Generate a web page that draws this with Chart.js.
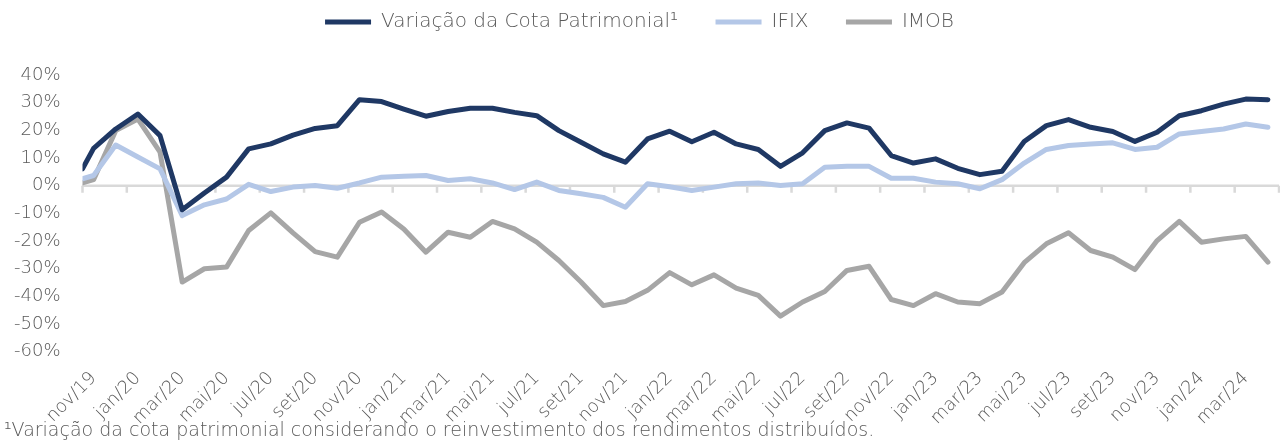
<!DOCTYPE html>
<html>
<head>
<meta charset="utf-8">
<script src="https://cdn.jsdelivr.net/npm/chart.js@4.4.1/dist/chart.umd.min.js"></script>
<style>
  html, body { margin: 0; padding: 0; background: #fff; }
  #wrap { position: relative; width: 1280px; height: 442px; }
  #nota {
    position: absolute; left: 4px; top: 418px;
    font-family: "DejaVu Sans", sans-serif; font-weight: 300; font-size: 19px;
    color: #595959; white-space: nowrap;
  }
</style>
</head>
<body>
<div id="wrap">
  <canvas id="grafico" width="1280" height="442"></canvas>
  <div id="nota">¹Variação da cota patrimonial considerando o reinvestimento dos rendimentos distribuídos.</div>
</div>
<script>
// meses (um ponto por mês)
const meses = [
  "nov/19", "dez/19",
  "jan/20", "fev/20", "mar/20", "abr/20", "mai/20", "jun/20", "jul/20", "ago/20", "set/20", "out/20", "nov/20", "dez/20",
  "jan/21", "fev/21", "mar/21", "abr/21", "mai/21", "jun/21", "jul/21", "ago/21", "set/21", "out/21", "nov/21", "dez/21",
  "jan/22", "fev/22", "mar/22", "abr/22", "mai/22", "jun/22", "jul/22", "ago/22", "set/22", "out/22", "nov/22", "dez/22",
  "jan/23", "fev/23", "mar/23", "abr/23", "mai/23", "jun/23", "jul/23", "ago/23", "set/23", "out/23", "nov/23", "dez/23",
  "jan/24", "fev/24", "mar/24", "abr/24"
];

// variação acumulada em %
const cota = [13.5, 20.5, 25.9, 18.1, -8.7, -2.6, 3.1, 13.3, 15.1, 18.3, 20.7, 21.7, 31.1, 30.4,
  27.7, 25.1, 26.8, 28.0, 28.0, 26.5, 25.3, 19.9, 15.7, 11.5, 8.5, 16.9,
  19.7, 15.9, 19.3, 15.1, 13.1, 7.0, 11.9, 19.9, 22.7, 20.8, 10.9, 8.2,
  9.7, 6.3, 4.0, 5.2, 16.0, 21.7, 23.9, 21.1, 19.6, 16.0, 19.3, 25.3,
  27.1, 29.5, 31.3, 31.1];
const ifix = [3.7, 14.7, 10.4, 6.1, -10.8, -6.9, -4.8, 0.5, -2.1, -0.5, 0.1, -0.9, 1.0, 3.1,
  3.4, 3.7, 1.9, 2.5, 1.0, -1.4, 1.3, -1.7, -2.9, -4.2, -7.8, 0.7,
  -0.4, -1.7, -0.5, 0.7, 1.0, 0.1, 0.7, 6.7, 7.0, 7.0, 2.7, 2.7,
  1.3, 0.7, -1.1, 2.2, 8.2, 13.1, 14.5, 15.1, 15.5, 13.1, 13.9, 18.7,
  19.6, 20.5, 22.3, 21.1];
const imob = [2.2, 19.9, 24.1, 12.1, -34.8, -30.0, -29.4, -16.2, -9.8, -17.0, -23.8, -25.8, -13.2, -9.5,
  -15.6, -24.0, -16.8, -18.6, -12.9, -15.6, -20.4, -27.0, -34.8, -43.3, -41.8, -37.8,
  -31.4, -35.8, -32.2, -37.0, -39.6, -47.1, -42.0, -38.2, -30.6, -29.1, -41.1, -43.3,
  -39.0, -42.0, -42.6, -38.4, -27.8, -21.0, -17.0, -23.4, -25.8, -30.3, -19.8, -12.9,
  -20.4, -19.2, -18.3, -27.6];

// valor no início do eixo (borda esquerda)
const inicio = { cota: 6.1, ifix: 2.5, imob: 1.0 };

const ticksY = [40, 30, 20, 10, 0, -10, -20, -30, -40, -50, -60];

const cinzaTexto = "#595959";
const fonte = "'DejaVu Sans', sans-serif";

function serie(ini, valores) {
  return [{ x: -0.5, y: ini }].concat(valores.map((v, i) => ({ x: i, y: v })));
}

// linha do zero com marcações a cada 2 meses
const eixoZero = {
  id: "eixoZero",
  beforeDatasetsDraw(chart) {
    const { ctx, chartArea, scales } = chart;
    const y0 = scales.y.getPixelForValue(0);
    ctx.save();
    ctx.strokeStyle = "#d9d9d9";
    ctx.lineWidth = 2.5;
    ctx.beginPath();
    ctx.moveTo(chartArea.left, y0);
    ctx.lineTo(chartArea.right, y0);
    for (let i = -0.5; i <= meses.length - 0.5; i += 2) {
      const x = scales.x.getPixelForValue(i);
      ctx.moveTo(x, y0);
      ctx.lineTo(x, y0 + 7);
    }
    ctx.stroke();
    ctx.restore();
  }
};

const legendaMargem = {
  id: "legendaMargem",
  beforeInit(chart) {
    const fitOriginal = chart.legend.fit;
    chart.legend.fit = function () {
      fitOriginal.bind(chart.legend)();
      this.height += 33;
    };
  }
};

new Chart(document.getElementById("grafico"), {
  type: "line",
  data: {
    datasets: [
      { label: "Variação da Cota Patrimonial¹", data: serie(inicio.cota, cota), borderColor: "#1f3864", backgroundColor: "#1f3864", borderWidth: 5 },
      { label: "IFIX", data: serie(inicio.ifix, ifix), borderColor: "#b4c7e7", backgroundColor: "#b4c7e7", borderWidth: 5 },
      { label: "IMOB", data: serie(inicio.imob, imob), borderColor: "#a6a6a6", backgroundColor: "#a6a6a6", borderWidth: 5 }
    ]
  },
  options: {
    responsive: false,
    animation: false,
    layout: { padding: { left: 0, right: 1, top: 0, bottom: 5 } },
    elements: {
      line: { tension: 0, borderCapStyle: "round", borderJoinStyle: "round" },
      point: { radius: 0 }
    },
    plugins: {
      tooltip: { enabled: false },
      legend: {
        position: "top",
        labels: {
          usePointStyle: true,
          pointStyle: "line",
          pointStyleWidth: 46,
          color: cinzaTexto,
          padding: 12,
          font: { family: fonte, size: 20, weight: 300 },
          // espaço extra entre os itens da legenda
          generateLabels(chart) {
            const itens = Chart.defaults.plugins.legend.labels.generateLabels(chart);
            itens.forEach((it, i) => { if (i < itens.length - 1) it.text += "    "; });
            return itens;
          }
        }
      }
    },
    scales: {
      x: {
        type: "linear",
        min: -0.5,
        max: meses.length - 0.5,
        grid: { display: false },
        border: { display: false },
        afterBuildTicks(scale) {
          scale.ticks = meses.map((m, i) => ({ value: i })).filter(t => t.value % 2 === 0);
        },
        ticks: {
          autoSkip: false,
          minRotation: 45,
          maxRotation: 45,
          padding: 8,
          color: cinzaTexto,
          font: { family: fonte, size: 18, weight: 300 },
          callback: (v) => meses[v]
        }
      },
      y: {
        min: -60,
        max: 40,
        afterBuildTicks(scale) {
          scale.ticks = ticksY.map(v => ({ value: v }));
        },
        grid: { display: false },
        border: { display: false },
        ticks: {
          padding: 14,
          color: cinzaTexto,
          font: { family: fonte, size: 18, weight: 300 },
          callback: (v) => v + "%"
        }
      }
    }
  },
  plugins: [eixoZero, legendaMargem]
});
</script>
</body>
</html>
